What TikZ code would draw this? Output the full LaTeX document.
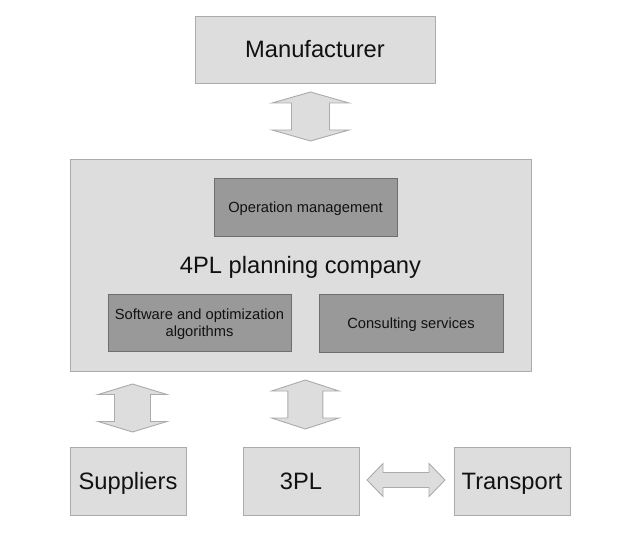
\documentclass[tikz,border=0pt]{standalone}
\usepackage{fontspec}
\setmainfont{Liberation Sans}
\definecolor{lightfill}{HTML}{DDDDDD}
\definecolor{lightline}{HTML}{ABABAB}
\definecolor{darkfill}{HTML}{999999}
\definecolor{darkline}{HTML}{6E6E6E}
\definecolor{txt}{HTML}{111111}
\newcommand{\myvarrow}[6]{% cx, top, bottom, half head, half shaft, head length
\draw[arr] (#1-#4,#2+#6) -- (#1,#2) -- (#1+#4,#2+#6) -- (#1+#5,#2+#6) -- (#1+#5,#3-#6) -- (#1+#4,#3-#6) -- (#1,#3) -- (#1-#4,#3-#6) -- (#1-#5,#3-#6) -- (#1-#5,#2+#6) -- cycle;}
\newcommand{\myharrow}[6]{% cy, left, right, half head, half shaft, head length
\draw[arr] (#2+#6,#1-#4) -- (#2,#1) -- (#2+#6,#1+#4) -- (#2+#6,#1+#5) -- (#3-#6,#1+#5) -- (#3-#6,#1+#4) -- (#3,#1) -- (#3-#6,#1-#4) -- (#3-#6,#1-#5) -- (#2+#6,#1-#5) -- cycle;}
\tikzset{
  lightbox/.style={draw=lightline, fill=lightfill, line width=0.9pt, inner sep=0pt, text=txt, text height=17pt, text depth=0pt, font=\fontsize{23.7}{26}\selectfont},
  darkbox/.style={draw=darkline, fill=darkfill, line width=0.9pt, inner sep=0pt, text=txt, align=center, text height=10.5pt, text depth=0pt, font=\fontsize{14.7}{16.7}\selectfont},
  arr/.style={draw=lightline, fill=lightfill, line width=0.9pt, line join=miter},
}
\begin{document}
\begin{tikzpicture}[x=1pt,y=-1pt]
\useasboundingbox (0,0) rectangle (617,534);
\node[lightbox, minimum width=240pt, minimum height=67pt] (man) at (315,49.5) {Manufacturer};
\node[lightbox, minimum width=461pt, minimum height=212pt] (fourpl) at (300.5,265) {};
\node[lightbox, draw=none, fill=none, anchor=base] (fourpltext) at (300.5,273) {4PL planning company};
\node[darkbox, minimum width=183pt, minimum height=58pt] (op) at (305.5,207.5) {Operation management};
\node[darkbox, text height=27.2pt, minimum width=183pt, minimum height=57pt] (soft) at (199.5,322.5) {Software and optimization\\algorithms};
\node[darkbox, minimum width=184pt, minimum height=58pt] (cons) at (411,323) {Consulting services};
\node[lightbox, minimum width=116pt, minimum height=68pt] (sup) at (128,481) {Suppliers};
\node[lightbox, minimum width=116pt, minimum height=68pt] (tpl) at (301,481) {3PL};
\node[lightbox, minimum width=116pt, minimum height=68pt] (trans) at (512,481) {Transport};
\myvarrow{310.5}{92}{141}{38.5}{19}{11}
\myvarrow{132.5}{384}{432}{34.5}{18}{10.5}
\myvarrow{305.3}{380}{429}{33.7}{17.5}{11}
\myharrow{480}{367}{445}{16.5}{7.5}{16}
\end{tikzpicture}
\end{document}
